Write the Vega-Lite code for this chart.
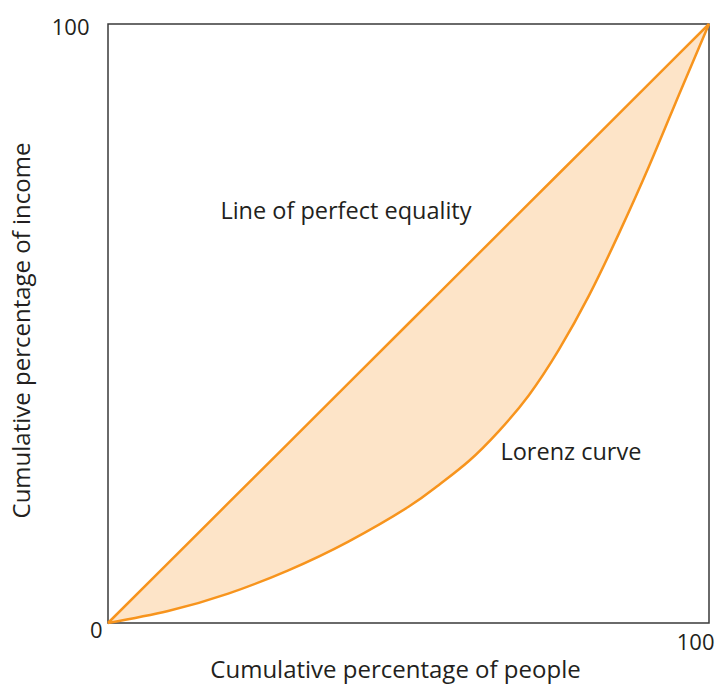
{
  "$schema": "https://vega.github.io/schema/vega-lite/v6.json",
  "width": 601,
  "height": 599,
  "autosize": {"type": "none"},
  "padding": {"left": 108, "top": 24, "right": 10, "bottom": 62},
  "background": "white",
  "config": {
    "view": {"stroke": "#3a3a3a", "strokeWidth": 1.5},
    "font": "Open Sans",
    "axis": {"grid": false, "domain": false, "ticks": false, "tickSize": 0, "labelFont": "Open Sans", "titleFont": "Open Sans", "labelColor": "#231f20", "titleColor": "#231f20", "labelFontSize": 22, "titleFontSize": 24, "titleFontWeight": "normal"}
  },
  "datasets": {
    "curve": [
      {"p": 0, "lorenz": 0, "equal": 0},
      {"p": 10, "lorenz": 2.0, "equal": 10},
      {"p": 20, "lorenz": 4.9, "equal": 20},
      {"p": 30, "lorenz": 8.8, "equal": 30},
      {"p": 40, "lorenz": 13.6, "equal": 40},
      {"p": 50, "lorenz": 19.4, "equal": 50},
      {"p": 55, "lorenz": 23.0, "equal": 55},
      {"p": 60, "lorenz": 27.0, "equal": 60},
      {"p": 65, "lorenz": 32.0, "equal": 65},
      {"p": 70, "lorenz": 38.0, "equal": 70},
      {"p": 75, "lorenz": 45.6, "equal": 75},
      {"p": 80, "lorenz": 54.6, "equal": 80},
      {"p": 85, "lorenz": 65.0, "equal": 85},
      {"p": 90, "lorenz": 76.2, "equal": 90},
      {"p": 95, "lorenz": 88.2, "equal": 95},
      {"p": 100, "lorenz": 100, "equal": 100}
    ],
    "labels": [
      {"x": 18.7, "y": 68.6, "text": "Line of perfect equality"},
      {"x": 65.3, "y": 28.4, "text": "Lorenz curve"}
    ]
  },
  "layer": [
    {
      "data": {"name": "curve"},
      "mark": {"type": "area", "interpolate": "natural", "color": "#fde4c8", "opacity": 1},
      "encoding": {
        "x": {"field": "p", "type": "quantitative", "scale": {"domain": [0, 100], "nice": false},
          "axis": {"values": [100], "labelAlign": "right", "labelBaseline": "top", "labelPadding": 9, "labelOffset": 5,
            "title": "Cumulative percentage of people", "titleX": 287, "titleY": 47, "titleBaseline": "middle"}},
        "y": {"field": "equal", "type": "quantitative", "scale": {"domain": [0, 100], "nice": false},
          "axis": {"values": [0, 100], "labelAlign": "right", "labelBaseline": "middle",
            "labelPadding": {"condition": {"test": "datum.value == 0", "value": 6}, "value": 19},
            "labelOffset": {"condition": {"test": "datum.value == 0", "value": 7}, "value": 3},
            "title": "Cumulative percentage of income", "titleX": -86, "titleY": 306, "titleBaseline": "middle"}},
        "y2": {"field": "lorenz"}
      }
    },
    {
      "data": {"name": "curve"},
      "mark": {"type": "line", "color": "#f7941d", "strokeWidth": 2.5},
      "encoding": {
        "x": {"field": "p", "type": "quantitative"},
        "y": {"field": "equal", "type": "quantitative"}
      }
    },
    {
      "data": {"name": "curve"},
      "mark": {"type": "line", "interpolate": "natural", "color": "#f7941d", "strokeWidth": 2.5},
      "encoding": {
        "x": {"field": "p", "type": "quantitative"},
        "y": {"field": "lorenz", "type": "quantitative"}
      }
    },
    {
      "data": {"name": "labels"},
      "mark": {"type": "text", "align": "left", "baseline": "middle", "font": "Open Sans", "fontSize": 23.5, "color": "#231f20"},
      "encoding": {
        "x": {"field": "x", "type": "quantitative"},
        "y": {"field": "y", "type": "quantitative"},
        "text": {"field": "text"}
      }
    }
  ]
}
